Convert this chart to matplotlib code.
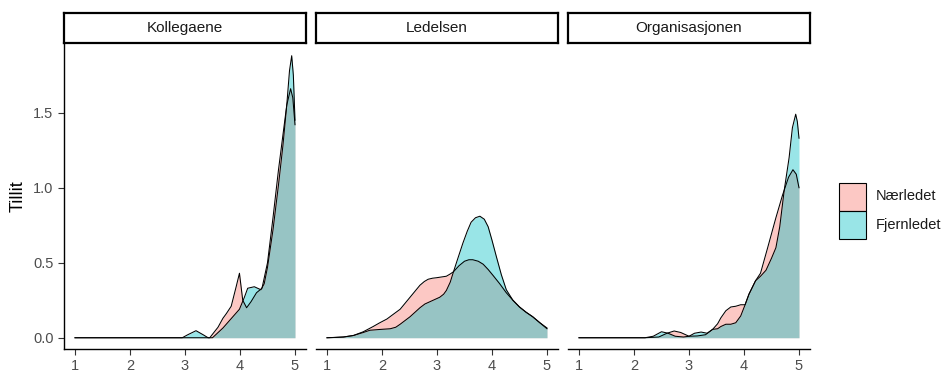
import matplotlib
matplotlib.use("Agg")
import matplotlib.pyplot as plt
from matplotlib.patches import Rectangle

plt.rcParams['font.family'] = ['Liberation Sans', 'DejaVu Sans']

# facet titles and groups
facets = ["Kollegaene", "Ledelsen", "Organisasjonen"]
groups = ["Nærledet", "Fjernledet"]
x_ticks = [1, 2, 3, 4, 5]
y_ticks = [0.0, 0.5, 1.0, 1.5]
y_tick_labels = ["0.0", "0.5", "1.0", "1.5"]

# density curves
kol_naer_x = [1, 3.45, 3.6, 3.69, 3.75, 3.84, 3.93, 3.99, 4.05, 4.12, 4.2, 4.3, 4.4, 4.5,
              4.6, 4.7, 4.78, 4.85, 4.92, 4.96, 5.0]
kol_naer_y = [0, 0, 0.07, 0.13, 0.16, 0.21, 0.34, 0.43, 0.25, 0.2, 0.24, 0.3, 0.33, 0.5,
              0.8, 1.12, 1.35, 1.55, 1.66, 1.6, 1.42]
kol_fjern_x = [1, 2.95, 3.05, 3.2, 3.33, 3.42, 3.5, 3.69, 3.87, 3.99, 4.08, 4.14, 4.26, 4.38,
               4.44, 4.5, 4.6, 4.7, 4.78, 4.85, 4.9, 4.94, 4.97, 5.0]
kol_fjern_y = [0, 0, 0.02, 0.047, 0.02, 0, 0, 0.065, 0.14, 0.19, 0.27, 0.33, 0.34, 0.32,
               0.36, 0.47, 0.72, 1.02, 1.28, 1.55, 1.78, 1.88, 1.75, 1.45]

led_naer_x = [1, 1.15, 1.3, 1.48, 1.66, 1.84, 1.96, 2.09, 2.2, 2.33, 2.42, 2.51, 2.6, 2.69,
              2.77, 2.84, 2.92, 2.99, 3.08, 3.17, 3.24, 3.3, 3.4, 3.5, 3.58, 3.65, 3.75,
              3.84, 3.93, 4.02, 4.14, 4.26, 4.38, 4.5, 4.62, 4.74, 4.87, 5.0]
led_naer_y = [0, 0.002, 0.005, 0.015, 0.04, 0.075, 0.1, 0.125, 0.155, 0.19, 0.23, 0.27, 0.31, 0.35,
              0.375, 0.39, 0.397, 0.40, 0.405, 0.41, 0.425, 0.44, 0.48, 0.51, 0.52, 0.52, 0.51,
              0.49, 0.455, 0.415, 0.36, 0.30, 0.25, 0.205, 0.17, 0.14, 0.1, 0.06]
led_fjern_x = [1, 1.3, 1.48, 1.66, 1.78, 1.95, 2.15, 2.25, 2.33, 2.42, 2.51, 2.6, 2.69, 2.78,
               2.87, 2.96, 3.05, 3.12, 3.17, 3.24, 3.3, 3.38, 3.47, 3.55, 3.62, 3.7, 3.78,
               3.86, 3.93, 4.0, 4.08, 4.17, 4.26, 4.38, 4.5, 4.62, 4.74, 4.87, 5.0]
led_fjern_y = [0, 0.005, 0.015, 0.035, 0.05, 0.055, 0.06, 0.07, 0.09, 0.115, 0.14, 0.17, 0.2, 0.225,
               0.24, 0.255, 0.27, 0.29, 0.315, 0.37, 0.44, 0.53, 0.63, 0.71, 0.77, 0.80, 0.81,
               0.79, 0.74, 0.65, 0.54, 0.42, 0.32, 0.25, 0.205, 0.17, 0.14, 0.1, 0.065]

org_naer_x = [1, 2.2, 2.45, 2.6, 2.73, 2.85, 3.0, 3.15, 3.3, 3.43, 3.52, 3.58, 3.67, 3.76,
              3.85, 3.94, 4.02, 4.09, 4.21, 4.3, 4.43, 4.58, 4.7, 4.81, 4.89, 4.95, 5.0]
org_naer_y = [0, 0, 0.005, 0.03, 0.045, 0.035, 0.01, 0.012, 0.02, 0.056, 0.093, 0.133, 0.18, 0.205,
              0.21, 0.22, 0.22, 0.29, 0.38, 0.43, 0.6, 0.8, 0.95, 1.07, 1.12, 1.09, 1.0]
org_fjern_x = [1, 2.2, 2.35, 2.5, 2.62, 2.75, 2.9, 3.0, 3.1, 3.22, 3.33, 3.43, 3.52, 3.58,
               3.67, 3.76, 3.85, 3.94, 4.02, 4.09, 4.21, 4.3, 4.4, 4.5, 4.58, 4.65, 4.73,
               4.82, 4.88, 4.94, 4.97, 5.0]
org_fjern_y = [0, 0, 0.01, 0.04, 0.03, 0.01, 0.005, 0.01, 0.03, 0.038, 0.03, 0.056, 0.06, 0.075,
               0.09, 0.09, 0.1, 0.145, 0.22, 0.29, 0.38, 0.41, 0.45, 0.53, 0.6, 0.74, 0.98,
               1.2, 1.4, 1.49, 1.44, 1.33]

curves = {
    "Kollegaene": [(kol_naer_x, kol_naer_y), (kol_fjern_x, kol_fjern_y)],
    "Ledelsen": [(led_naer_x, led_naer_y), (led_fjern_x, led_fjern_y)],
    "Organisasjonen": [(org_naer_x, org_naer_y), (org_fjern_x, org_fjern_y)],
}
colors = ["#F8766D", "#00BFC4"]

W, H = 946, 374
fig = plt.figure(figsize=(W / 100, H / 100), dpi=100)

panel_left = [64, 316, 568]
panel_w = 242
panel_top, panel_bottom = 44, 349

for i, name in enumerate(facets):
    ax = fig.add_axes([panel_left[i] / W, (H - panel_bottom) / H,
                       panel_w / W, (panel_bottom - panel_top) / H])
    for (xs, ys), c in zip(curves[name], colors):
        ax.fill_between(xs, 0, ys, color=c, alpha=0.4, linewidth=0)
        ax.plot(xs, ys, color="black", linewidth=0.75)
    ax.set_xlim(0.8, 5.2)
    ax.set_ylim(-0.075, 1.958)
    ax.set_xticks(x_ticks)
    ax.set_xticklabels([str(t) for t in x_ticks])
    for s in ["top", "right"]:
        ax.spines[s].set_visible(False)
    ax.spines["bottom"].set_linewidth(1.0)
    ax.tick_params(axis="both", length=4.5, width=0.8, color="#333333",
                   labelsize=10.5, labelcolor="#4D4D4D", pad=3)
    if i == 0:
        ax.spines["left"].set_linewidth(1.0)
        ax.set_yticks(y_ticks)
        ax.set_yticklabels(y_tick_labels)
        ax.set_ylabel("Tillit", fontsize=13, labelpad=5)
    else:
        ax.spines["left"].set_visible(False)
        ax.set_yticks([])

    # strip
    sax = fig.add_axes([panel_left[i] / W, (H - 43) / H, panel_w / W, 30 / H])
    sax.set_xticks([])
    sax.set_yticks([])
    for s in sax.spines.values():
        s.set_linewidth(1.6)
        s.set_color("black")
    sax.text(0.5, 0.5, name, ha="center", va="center", fontsize=11, color="#1A1A1A",
             transform=sax.transAxes)

# legend
key_x, key_w, key_h = 839, 27, 28
key_tops = [182.5, 210.5]
for top, c, label in zip(key_tops, colors, groups):
    fig.add_artist(Rectangle((key_x / W, (H - top - key_h) / H), key_w / W, key_h / H,
                             transform=fig.transFigure, facecolor=c, alpha=0.4,
                             edgecolor="none"))
    fig.add_artist(Rectangle((key_x / W, (H - top - key_h) / H), key_w / W, key_h / H,
                             transform=fig.transFigure, facecolor="none",
                             edgecolor="black", linewidth=0.8))
    fig.text((key_x + key_w + 10) / W, (H - top - key_h / 2) / H, label,
             ha="left", va="center", fontsize=10.5, color="#1A1A1A")

fig.savefig("out.png", dpi=100)
